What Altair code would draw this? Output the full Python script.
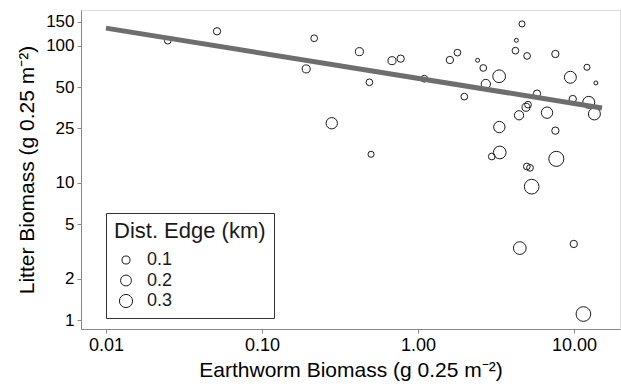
import altair as alt
import pandas as pd

# Earthworm biomass (x), litter biomass (y), distance to edge (size)
earthworm = [0.0249, 0.0515, 0.216, 0.192, 0.280, 0.421, 0.488, 0.50, 0.681, 0.774,
             1.097, 1.60, 1.79, 1.98, 2.41, 2.62, 2.72, 3.31, 4.64, 4.27,
             4.21, 5.0, 7.59, 5.79, 5.07, 4.92, 4.44, 6.71, 9.47, 12.1,
             13.8, 9.81, 12.42, 13.5, 3.32, 7.59, 3.34, 2.97, 7.70, 4.98,
             5.22, 5.35, 4.49, 9.96, 11.48]
litter = [109.3, 128, 113.8, 68, 27.3, 90.9, 54.3, 16.2, 78.1, 80.8,
          57.7, 79, 89.4, 42.7, 78.6, 69.1, 52.8, 60.1, 144.8, 110,
          92.4, 84.6, 87.4, 44.9, 37.3, 35.7, 31.2, 32.6, 59.1, 69.9,
          53.7, 41.0, 38.8, 31.9, 25.6, 24.1, 16.7, 15.6, 15.0, 13.2,
          12.9, 9.4, 3.35, 3.59, 1.106]
dist_edge = [0.065, 0.08, 0.065, 0.10, 0.22, 0.10, 0.065, 0.05, 0.10, 0.08,
             0.065, 0.08, 0.065, 0.065, 0.01, 0.065, 0.14, 0.28, 0.05, 0.01,
             0.065, 0.065, 0.08, 0.08, 0.065, 0.10, 0.14, 0.22, 0.245, 0.05,
             0.01, 0.08, 0.245, 0.245, 0.22, 0.08, 0.28, 0.065, 0.40, 0.065,
             0.065, 0.38, 0.28, 0.08, 0.38]

# Fitted line end points
fit_x = [0.01, 15.1]
fit_y = [135, 35.3]

x_ticks = [0.01, 0.1, 1, 10]
y_ticks = [1, 2, 5, 10, 25, 50, 100, 150]
legend_values = [0.1, 0.2, 0.3]

pts = pd.DataFrame({"earthworm": earthworm, "litter": litter, "dist": dist_edge})
fit = pd.DataFrame({"earthworm": fit_x, "litter": fit_y})

FONT = "Liberation Sans"
xscale = alt.Scale(type="log", domain=[0.00692, 19.7], nice=False)
yscale = alt.Scale(type="log", domain=[0.86, 183], nice=False)

xaxis = alt.Axis(values=x_ticks, format=".2f", title="Earthworm Biomass (g 0.25 m⁻²)",
                 grid=False, tickSize=4, labelPadding=3, titlePadding=5,
                 labelFontSize=18, titleFontSize=21, titleFontWeight="normal",
                 labelFont=FONT, titleFont=FONT)
yaxis = alt.Axis(values=y_ticks, format="d", title="Litter Biomass (g 0.25 m⁻²)",
                 grid=False, tickSize=4, labelPadding=3, titlePadding=8,
                 labelFontSize=17, titleFontSize=21, titleFontWeight="normal",
                 labelFont=FONT, titleFont=FONT)

points = alt.Chart(pts).mark_point(
    filled=False, shape="circle", color="#1a1a1a", strokeWidth=1, opacity=1
).encode(
    x=alt.X("earthworm:Q", scale=xscale, axis=xaxis),
    y=alt.Y("litter:Q", scale=yscale, axis=yaxis),
    size=alt.Size(
        "dist:Q",
        scale=alt.Scale(domain=[0, 0.4], range=[10, 227]),
        legend=alt.Legend(
            values=legend_values, title="Dist. Edge (km)", orient="none",
            legendX=25, legendY=203, padding=8, strokeColor="#333333",
            fillColor="white", titleFontSize=22, titleFontWeight="normal",
            titleColor="#1a1a1a", titlePadding=8, labelFontSize=18,
            labelColor="#1a1a1a", rowPadding=2.5, symbolOffset=3,
            labelOffset=12, symbolStrokeColor="#1a1a1a",
            symbolFillColor="transparent", symbolStrokeWidth=1,
            format=".1f", titleFont=FONT, labelFont=FONT,
        ),
    ),
)

line = alt.Chart(fit).mark_line(color="#6e6e6e", strokeWidth=5).encode(
    x=alt.X("earthworm:Q", scale=xscale, axis=xaxis),
    y=alt.Y("litter:Q", scale=yscale, axis=yaxis),
)

chart = alt.layer(points, line).properties(
    width=539, height=319,
    padding={"left": 81, "top": 10, "right": 1, "bottom": 60},
    autosize="none",
).configure_view(stroke=None).configure_axis(
    domainColor="#333333", domainWidth=1.1, tickColor="#333333",
    labelColor="#1a1a1a", titleColor="#1a1a1a",
).configure(background="white")

chart.save("out.html", embed_options={"renderer": "svg", "actions": False})
